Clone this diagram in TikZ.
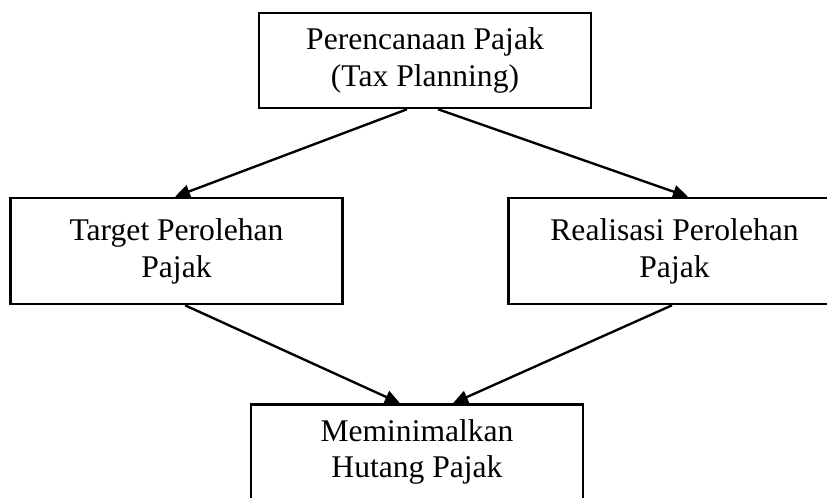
\documentclass[tikz,border=0pt]{standalone}
\usepackage{fontspec}
\setmainfont{Liberation Serif}
\usetikzlibrary{arrows.meta,calc}

\tikzset{
  kotak/.style={draw, line width=0.95pt, align=center, minimum width=126pt,
    inner sep=0pt, font=\fontsize{12}{14}\selectfont},
  panah/.style={line width=0.9pt, -{Triangle[length=5.7pt,width=5pt]}}
}

\begin{document}
\begin{tikzpicture}[x=0.38pt, y=-0.38pt]

\clip (0,0) rectangle (827,497);

\node[kotak, minimum height=36.1pt] (plan) at (425,60.5) {Perencanaan Pajak\\(Tax Planning)};
\node[kotak, minimum height=40.3pt] (target) at (176.5,251) {Target Perolehan\\Pajak};
\node[kotak, minimum height=40.3pt] (realisasi) at (674.5,251) {Realisasi Perolehan\\Pajak};
\node[kotak, minimum height=36.1pt] (hutang) at (417,452) {Meminimalkan\\Hutang Pajak};

\coordinate (A) at ($(plan.south)+(-18,0)$);
\coordinate (B) at ($(plan.south)+(13,0)$);
\coordinate (C) at ($(target.north)+(-1.5,0)$);
\coordinate (D) at ($(realisasi.north)+(13.5,0)$);
\coordinate (E) at ($(target.south)+(8.5,0)$);
\coordinate (F) at ($(realisasi.south)+(-2.5,0)$);
\coordinate (G) at ($(hutang.north)+(-17,0)$);
\coordinate (H) at ($(hutang.north)+(36,0)$);

\draw[panah] (A) -- (C);
\draw[panah] (B) -- (D);
\draw[panah] (E) -- (G);
\draw[panah] (F) -- (H);

\end{tikzpicture}
\end{document}
